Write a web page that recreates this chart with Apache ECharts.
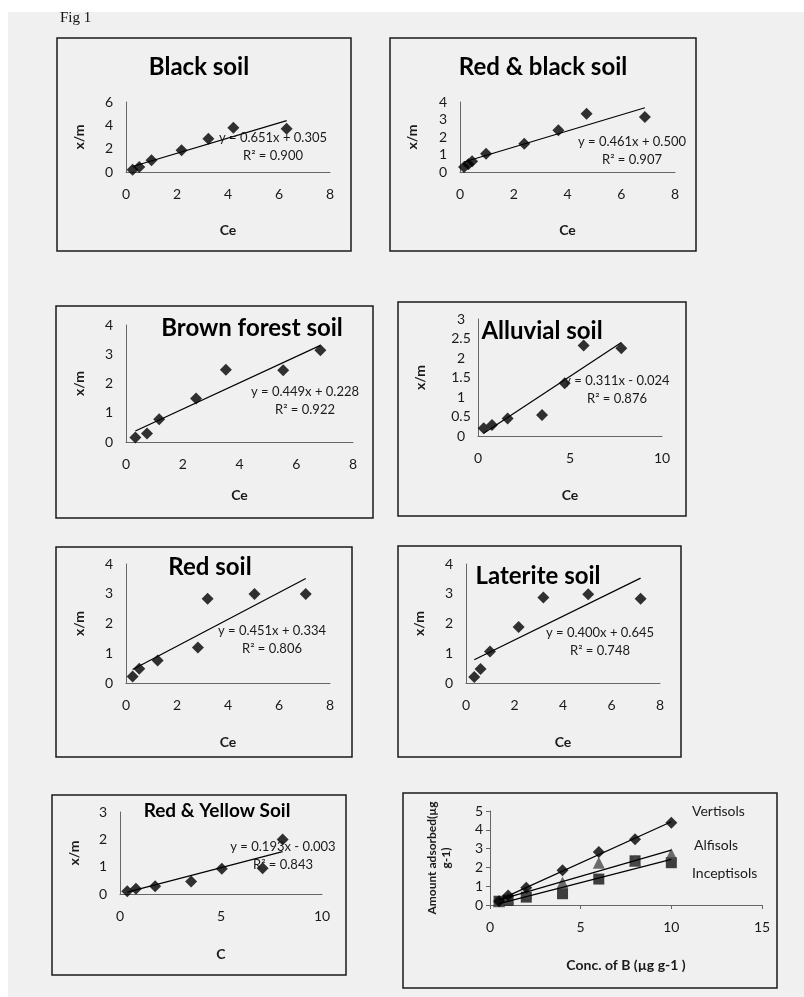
<!DOCTYPE html>
<html><head><meta charset="utf-8">
<script src="https://cdn.jsdelivr.net/npm/echarts@6/dist/echarts.min.js"></script>
<style>html,body{margin:0;padding:0;background:#fff}#c{width:804px;height:997px}</style>
</head><body><div id="c"></div>
<script>
// ---------- DATA ----------
const titles = ['Black soil','Red & black soil','Brown forest soil','Alluvial soil','Red soil','Laterite soil','Red & Yellow Soil'];
const eqTexts = ['y = 0.651x + 0.305','y = 0.461x + 0.500','y = 0.449x + 0.228','y = 0.311x - 0.024','y = 0.451x + 0.334','y = 0.400x + 0.645','y = 0.193x - 0.003'];
const r2Texts = ['R² = 0.900','R² = 0.907','R² = 0.922','R² = 0.876','R² = 0.806','R² = 0.748','R² = 0.843'];
const slopes = [0.651,0.461,0.449,0.311,0.451,0.400,0.193];
const intercepts = [0.305,0.500,0.228,-0.024,0.334,0.645,-0.003];

const blackCe = [0.26,0.52,1.0,2.18,3.23,4.21,6.3];
const blackXm = [0.2,0.43,1.0,1.86,2.86,3.8,3.71];
const redBlackCe = [0.15,0.31,0.45,0.97,2.39,3.66,4.71,6.88];
const redBlackXm = [0.29,0.45,0.61,1.05,1.62,2.38,3.33,3.14];
const brownCe = [0.33,0.74,1.17,2.47,3.52,5.54,6.85];
const brownXm = [0.15,0.29,0.78,1.49,2.47,2.45,3.14];
const alluvialCe = [0.31,0.76,1.61,3.48,4.71,5.74,7.79];
const alluvialXm = [0.2,0.28,0.45,0.54,1.35,2.32,2.25];
const redCe = [0.26,0.52,1.24,2.82,3.2,5.04,7.05];
const redXm = [0.22,0.48,0.76,1.19,2.83,2.99,2.99];
const lateriteCe = [0.34,0.6,0.99,2.17,3.19,5.04,7.2];
const lateriteXm = [0.2,0.47,1.06,1.88,2.87,2.98,2.83];
const redYellowC = [0.36,0.79,1.74,3.52,5.04,7.06,8.05];
const redYellowXm = [0.1,0.19,0.28,0.46,0.92,0.94,1.99];

const concB = [0.5,1,2,4,6,8,10];
const vertisols = [0.2,0.5,0.92,1.85,2.82,3.5,4.38];
const alfisols = [0.2,0.35,0.65,1.2,2.25,2.35,2.7];
const inceptisols = [0.2,0.25,0.42,0.6,1.38,2.35,2.25];
const soilOrders = ['Vertisols','Alfisols','Inceptisols'];

const xMax = [8,8,8,10,8,8,10,15];
const xInt = [2,2,2,5,2,2,5,5];
const yMax = [6,4,4,3,4,4,3,5];
const yInt = [2,1,1,0.5,1,1,1,1];
const xNames = ['Ce','Ce','Ce','Ce','Ce','Ce','C','Conc. of B (µg g-1 )'];
const yNames = ['x/m','x/m','x/m','x/m','x/m','x/m','x/m','Amount adsorbed(µg\ng-1)'];

// ---------- LAYOUT ----------
const FONT = 'Lato, "Open Sans", sans-serif';
const TXT = '#1a1a1a';
const grids = [
  {left:126,top:102,width:204,height:70},
  {left:460,top:102,width:215,height:70},
  {left:126,top:325,width:227,height:117},
  {left:478,top:319,width:184,height:117},
  {left:126,top:564,width:204,height:119},
  {left:466,top:564,width:194,height:119},
  {left:120,top:812,width:202,height:82},
  {left:490,top:811,width:272,height:94}
];
const boxes = [
  [57,38,351,251],[390,38,696,251],[56,306,373,518],[398,302,686,516],
  [56,547,352,757],[398,546,681,757],[52,795,346,975],[403,793,777,988]
];
const titlePos = [[199,67,24],[543,67,24],[252,328,24],[542,331,24],[210,567,24],[538,576,24],[217,811,19]];
const eqPos = [[273,138],[632,142],[305,392],[617,381],[272,631],[600,633],[283,847]];
const xNameGap = [51,51,46,52,52,52,53,53];
const yNameGap = [39,40,39,50,39,39,38,37];

const panelX = [blackCe,redBlackCe,brownCe,alluvialCe,redCe,lateriteCe,redYellowC];
const panelY = [blackXm,redBlackXm,brownXm,alluvialXm,redXm,lateriteXm,redYellowXm];

function fit(xs, ys){
  const n=xs.length; const mx=xs.reduce((a,b)=>a+b)/n; const my=ys.reduce((a,b)=>a+b)/n;
  let sxx=0,sxy=0; for(let i=0;i<n;i++){sxx+=(xs[i]-mx)**2; sxy+=(xs[i]-mx)*(ys[i]-my);}
  const m=sxy/sxx; return [m, my-m*mx];
}

const xAxes=[], yAxes=[], series=[], graphics=[];
graphics.push({type:'rect',shape:{x:8,y:12,width:796,height:985},style:{fill:'#f0f0f0'},z:-10});
graphics.push({type:'text',left:60,top:11,style:{text:'Fig 1',font:'15px "Liberation Serif", "DejaVu Serif", serif',fill:'#111'}});
boxes.forEach(b=>graphics.push({type:'rect',shape:{x:b[0],y:b[1],width:b[2]-b[0],height:b[3]-b[1]},style:{fill:'none',stroke:'#1a1a1a',lineWidth:1.5},z:-5}));

for(let i=0;i<8;i++){
  const last = i===7;
  xAxes.push({gridIndex:i,type:'value',min:0,max:xMax[i],interval:xInt[i],
    axisLine:{show:true,onZero:false,lineStyle:{color:'#666',width:1}},
    axisTick:{show:last,length:4,lineStyle:{color:'#666'}},splitLine:{show:false},
    axisLabel:{fontSize:14,color:TXT,fontFamily:FONT,margin:15,showMaxLabel:true,showMinLabel:true},
    name:xNames[i],nameLocation:'middle',nameGap:xNameGap[i],
    nameTextStyle:{fontSize:14,fontWeight:'bold',color:TXT,fontFamily:FONT}});
  yAxes.push({gridIndex:i,type:'value',min:0,max:yMax[i],interval:yInt[i],
    axisLine:{show:true,onZero:false,lineStyle:{color:'#666',width:1}},
    axisTick:{show:last,length:4,lineStyle:{color:'#666'}},splitLine:{show:false},
    axisLabel:{fontSize:14,color:TXT,fontFamily:FONT,margin:last?11:17,align:'center',showMaxLabel:true,showMinLabel:true},
    name:yNames[i],nameLocation:'middle',nameGap:yNameGap[i],nameRotate:90,
    nameTextStyle:{fontSize:last?12:14,fontWeight:'bold',color:TXT,fontFamily:FONT,lineHeight:last?14:16}});
}

for(let i=0;i<7;i++){
  const xs=panelX[i], ys=panelY[i];
  const x0=Math.min(...xs), x1=Math.max(...xs);
  series.push({type:'line',xAxisIndex:i,yAxisIndex:i,showSymbol:false,silent:true,
    data:[[x0,slopes[i]*x0+intercepts[i]],[x1,slopes[i]*x1+intercepts[i]]],
    lineStyle:{color:'#000',width:1.2},z:2});
  series.push({type:'scatter',xAxisIndex:i,yAxisIndex:i,symbol:'diamond',symbolSize:12,
    data:xs.map((x,k)=>[x,ys[k]]),itemStyle:{color:'#000'},z:3});
  const tp=titlePos[i];
  graphics.push({type:'text',x:tp[0],y:tp[1],style:{text:titles[i],font:'bold '+tp[2]+'px '+FONT,fill:'#000',align:'center',verticalAlign:'middle'},z:10});
  const ep=eqPos[i];
  graphics.push({type:'text',x:ep[0],y:ep[1],style:{text:eqTexts[i],font:'13px '+FONT,fill:TXT,align:'center',verticalAlign:'middle'},z:10});
  graphics.push({type:'text',x:ep[0],y:ep[1]+18,style:{text:r2Texts[i],font:'13px '+FONT,fill:TXT,align:'center',verticalAlign:'middle'},z:10});
}

// panel 8
const orderData=[vertisols,alfisols,inceptisols];
const orderSym=['diamond','triangle','rect'];
const orderCol=['#000','#4a4a4a','#111'];
const orderSize=[12,12,11];
orderData.forEach((ys,k)=>{
  const [m,b]=fit(concB,ys);
  const x0=Math.min(...concB), x1=Math.max(...concB);
  series.push({type:'line',xAxisIndex:7,yAxisIndex:7,showSymbol:false,silent:true,
    data:[[x0,m*x0+b],[x1,m*x1+b]],lineStyle:{color:'#000',width:1.2},z:4});
  series.push({type:'scatter',xAxisIndex:7,yAxisIndex:7,symbol:orderSym[k],symbolSize:orderSize[k],
    data:concB.map((x,j)=>[x,ys[j]]),itemStyle:{color:orderCol[k]},z:3-k*0.1});
});
const legendPos=[[692,811],[694,845],[692,873]];
soilOrders.forEach((s,k)=>graphics.push({type:'text',x:legendPos[k][0],y:legendPos[k][1],style:{text:s,font:'14px '+FONT,fill:TXT,align:'left',verticalAlign:'middle'},z:10}));

const chart=echarts.init(document.getElementById('c'),null,{renderer:'canvas'});
chart.setOption({animation:false,backgroundColor:'#fff',grid:grids,xAxis:xAxes,yAxis:yAxes,series:series,graphic:graphics});
</script></body></html>
